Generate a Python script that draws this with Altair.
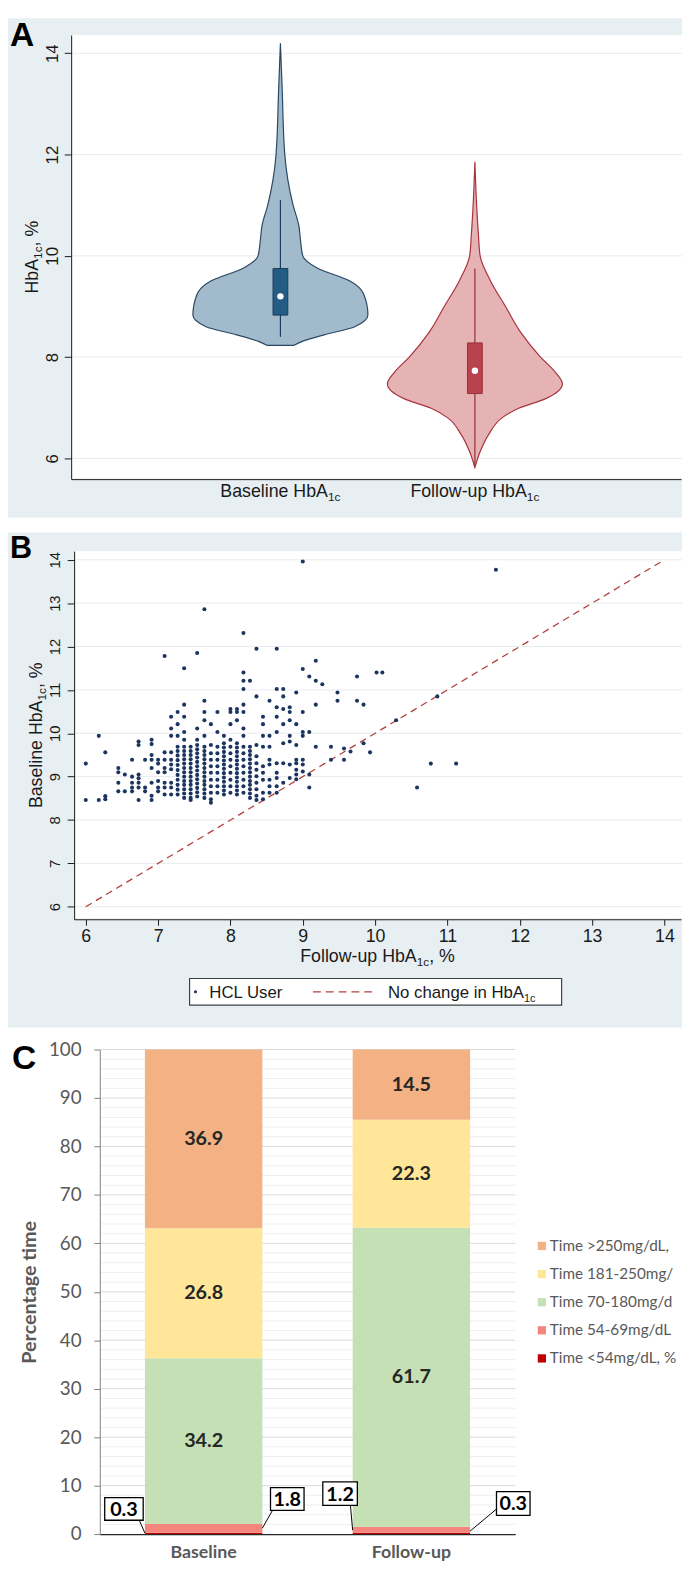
import altair as alt
import pandas as pd

# ============================ DATA ============================
# --- Panel A: violin outlines (HbA1c %, relative density) ---
baseline_violin_hba1c = [14.20, 13.30, 12.00, 11.50, 11.00, 10.60, 10.30, 10.00, 9.76, 9.50, 9.25, 8.83, 8.60, 8.44, 8.31, 8.23]
baseline_violin_density = [0.00, 0.02, 0.05, 0.085, 0.145, 0.21, 0.23, 0.255, 0.42, 0.80, 0.95, 1.00, 0.85, 0.50, 0.25, 0.15]
followup_violin_hba1c = [11.86, 11.00, 10.43, 10.00, 9.50, 9.00, 8.50, 8.00, 7.70, 7.47, 7.18, 6.99, 6.80, 6.48, 6.15, 5.82]
followup_violin_density = [0.00, 0.02, 0.04, 0.06, 0.18, 0.35, 0.52, 0.75, 0.92, 1.00, 0.81, 0.50, 0.31, 0.16, 0.064, 0.00]
violin_positions = [1, 2]
violin_label_main = ["Baseline HbA", "Follow-up HbA"]
box_q1 = [8.83, 7.28]
box_median = [9.20, 7.73]
box_q3 = [9.75, 8.28]
whisker_low = [8.40, 5.85]
whisker_high = [11.10, 9.75]
a_tick_values = [6, 8, 10, 12, 14]

# --- Panel B: (follow-up HbA1c, [baseline HbA1c values]) read column by column ---
scatter_columns = [
    (6.00, [9.30, 8.46]),
    (6.18, [9.94, 8.46]),
    (6.27, [9.56, 8.55, 8.48]),
    (6.45, [9.20, 9.10, 8.86, 8.66]),
    (6.54, [9.05, 8.66]),
    (6.64, [9.39, 9.00, 8.86, 8.75, 8.66]),
    (6.73, [9.81, 9.73, 9.05, 8.96, 8.86, 8.75, 8.46]),
    (6.82, [9.39, 8.75, 8.66]),
    (6.91, [9.85, 9.75, 9.50, 9.39, 9.20, 8.86, 8.56, 8.46]),
    (7.00, [9.39, 9.30, 9.10, 8.90, 8.75, 8.66]),
    (7.09, [11.78, 9.56, 9.39, 9.20, 9.10, 8.86, 8.75, 8.59]),
    (7.18, [10.38, 10.11, 9.94, 9.56, 9.39, 9.28, 9.17, 8.86, 8.75, 8.59]),
    (7.27, [10.49, 10.21, 9.94, 9.69, 9.59, 9.49, 9.38, 9.27, 9.15, 9.04, 8.93, 8.81, 8.70, 8.59]),
    (7.36, [11.50, 10.66, 10.38, 10.03, 9.85, 9.69, 9.59, 9.50, 9.40, 9.30, 9.20, 9.10, 9.00, 8.90, 8.81, 8.71, 8.61, 8.51]),
    (7.45, [9.69, 9.59, 9.50, 9.40, 9.30, 9.20, 9.10, 9.00, 8.90, 8.81, 8.71, 8.61, 8.51, 8.46]),
    (7.54, [11.85, 10.11, 9.85, 9.73, 9.63, 9.54, 9.44, 9.34, 9.24, 9.14, 9.04, 8.94, 8.84, 8.74, 8.64, 8.54]),
    (7.64, [12.86, 10.75, 10.49, 10.30, 9.94, 9.69, 9.59, 9.50, 9.40, 9.30, 9.20, 9.10, 9.00, 8.90, 8.81, 8.71, 8.61, 8.51]),
    (7.73, [10.21, 9.73, 9.54, 9.39, 9.24, 9.09, 8.93, 8.78, 8.63, 8.48, 8.40]),
    (7.82, [10.49, 10.03, 9.69, 9.54, 9.39, 9.24, 9.09, 8.93, 8.78, 8.63]),
    (7.91, [9.94, 9.77, 9.67, 9.57, 9.47, 9.37, 9.28, 9.18, 9.08, 8.98, 8.88, 8.78, 8.68, 8.59]),
    (8.00, [10.56, 10.49, 10.21, 9.85, 9.69, 9.54, 9.39, 9.24, 9.09, 8.93, 8.78, 8.63]),
    (8.09, [10.56, 10.49, 10.30, 9.77, 9.67, 9.57, 9.47, 9.37, 9.28, 9.18, 9.08, 8.98, 8.88, 8.78, 8.68, 8.59]),
    (8.18, [12.31, 11.40, 11.21, 11.02, 10.66, 10.49, 10.11, 9.94, 9.69, 9.54, 9.39, 9.24, 9.09, 8.93, 8.78, 8.63]),
    (8.27, [11.21, 9.69, 9.59, 9.50, 9.40, 9.30, 9.20, 9.10, 9.00, 8.90, 8.81, 8.71, 8.61, 8.51]),
    (8.36, [11.95, 10.85, 9.73, 9.47, 9.31, 9.16, 9.01, 8.86, 8.71, 8.56, 8.46]),
    (8.45, [10.38, 10.21, 9.94, 9.69, 9.24, 9.09, 8.93, 8.63, 8.48]),
    (8.54, [10.75, 9.94, 9.69, 9.39, 9.28, 8.93, 8.78, 8.63]),
    (8.64, [11.95, 11.02, 10.60, 10.38, 10.03, 9.31, 9.09, 8.97, 8.78, 8.63]),
    (8.73, [11.02, 10.85, 10.56, 10.21, 9.77, 9.31, 8.86]),
    (8.82, [10.60, 10.49, 10.30, 9.94, 9.81, 9.28, 8.97]),
    (8.91, [10.94, 10.21, 9.73, 9.39, 9.31, 9.16, 9.05, 8.94]),
    (9.00, [13.96, 11.48, 10.49, 10.03, 9.94, 9.39, 9.28, 9.12]),
    (9.09, [11.31, 10.03, 9.05, 8.75]),
    (9.18, [11.67, 11.21, 10.66, 9.69]),
    (9.27, [11.13]),
    (9.39, [9.69, 9.39]),
    (9.48, [10.94, 10.75]),
    (9.57, [9.65, 9.39]),
    (9.66, [9.58]),
    (9.75, [11.31, 10.75]),
    (9.84, [10.66, 9.77]),
    (9.93, [9.56]),
    (10.02, [11.40]),
    (10.10, [11.40]),
    (10.29, [10.30]),
    (10.58, [8.75]),
    (10.77, [9.30]),
    (10.86, [10.85]),
    (11.12, [9.30]),
    (11.67, [13.77]),
]
b_tick_values = [6, 7, 8, 9, 10, 11, 12, 13, 14]
identity_line = [6, 14]

# --- Panel C ---
periods = ["Baseline", "Follow-up"]
glucose_ranges = ["Time <54mg/dL, %", "Time 54-69mg/dL %", "Time 70-180mg/dL, %",
                  "Time 181-250mg/dL, %", "Time >250mg/dL, %"]
baseline_time_pct = [0.3, 1.8, 34.2, 26.8, 36.9]
followup_time_pct = [0.3, 1.2, 61.7, 22.3, 14.5]
c_tick_values = list(range(0, 101, 10))
c_minor_values = [v for v in range(2, 100, 2) if v % 10]

# ============================ STYLE ============================
FONT = "Liberation Sans"
CFONT = "Lato"
INK = "#1a1a1a"
PANEL_BG = "#e7eff3"
GRID = "#e8ebed"
C_COLORS = ["#c00000", "#f4867e", "#c5e0b4", "#ffe699", "#f4b183"]
C_TEXT = "#595959"

ARIAL_W = {' ': 278, '%': 889, ',': 278, '-': 333, '1': 556, 'A': 667, 'B': 667, 'C': 722,
           'F': 611, 'H': 722, 'L': 556, 'N': 722, 'U': 722, 'a': 556, 'b': 556, 'c': 500,
           'e': 556, 'g': 556, 'h': 556, 'i': 222, 'l': 222, 'n': 556, 'o': 556, 'p': 556,
           'r': 333, 's': 500, 'u': 556, 'w': 722}


def tw(s, size):
    return sum(ARIAL_W.get(c, 556) for c in s) / 1000.0 * size


def dummy():
    return pd.DataFrame({"d": [0]})


def px_rect(x1, x2, y1, y2, **kw):
    return alt.Chart(dummy()).mark_rect(**kw).encode(
        x=alt.value(x1), x2=alt.value(x2), y=alt.value(y1), y2=alt.value(y2))


def px_text(txt, x, y, **kw):
    return alt.Chart(dummy()).mark_text(text=txt, **kw).encode(x=alt.value(x), y=alt.value(y))


def px_rule(x1, y1, x2, y2, **kw):
    return alt.Chart(dummy()).mark_rule(**kw).encode(
        x=alt.value(x1), y=alt.value(y1), x2=alt.value(x2), y2=alt.value(y2))


def sub_pieces(pieces):
    total = sum(tw(t, s) for t, s, _ in pieces)
    off = -total / 2.0
    out = []
    for t, s, dy in pieces:
        out.append((t, s, dy, off))
        off += tw(t, s)
    return out


def rotated_title(pieces, x, yc):
    return [px_text(t, x, yc, angle=270, align="left", baseline="alphabetic", dx=off, dy=dy,
                    font=FONT, fontSize=s, color=INK) for t, s, dy, off in sub_pieces(pieces)]


def flat_title(pieces, x, yb):
    return [px_text(t, x, yb, align="left", baseline="alphabetic", dx=off, dy=dy,
                    font=FONT, fontSize=s, color=INK) for t, s, dy, off in sub_pieces(pieces)]


# ============================ PANEL A ============================
AW, AH = 683, 506
A_L, A_R, A_T, A_B = 64, 682, 17, 467
VHALF = 0.45
BHALF = 0.038
xsA = alt.Scale(domain=[-0.076, 3.06], range=[A_L, A_R], nice=False, zero=False)
ysA = alt.Scale(domain=[5.59, 14.36], range=[A_B, A_T], nice=False, zero=False)

yaxisA = alt.Axis(values=a_tick_values, grid=False, labelAngle=270, labelAlign="center",
                  labelBaseline="alphabetic", labelPadding=7, tickSize=7, tickColor=INK,
                  domainColor=INK, labelFont=FONT, labelFontSize=17, labelColor=INK,
                  title=None, zindex=1, labelFlush=False, labelOverlap=False, offset=-A_L)
xaxisA = alt.Axis(labels=False, ticks=False, grid=False, title=None, domainColor=INK,
                  zindex=1, offset=A_B - AH)


def XA(f):
    return alt.X(f, scale=xsA, axis=xaxisA)


def YA(f):
    return alt.Y(f, scale=ysA, axis=yaxisA)


a_layers = [
    px_rect(A_L + 1, AW, A_T, A_B - 1, color="white"),
    alt.Chart(pd.DataFrame({"t": a_tick_values})).mark_rule(color=GRID, strokeWidth=1).encode(
        y=YA("t:Q"), x=alt.value(A_L + 1), x2=alt.value(AW)),
]

violin_specs = [
    ("#a2bbcc", "#2a4763", "#245c85", "#1b3b5a"),
    ("#e6b3b5", "#a8323d", "#b8434e", "#982d38"),
]
violin_data = [(baseline_violin_hba1c, baseline_violin_density),
               (followup_violin_hba1c, followup_violin_density)]
for i, (fill, stroke, boxfill, dark) in enumerate(violin_specs):
    pos = violin_positions[i]
    vals, dens = violin_data[i]
    dfv = pd.DataFrame({"v": vals,
                        "lo": [pos - d * VHALF for d in dens],
                        "hi": [pos + d * VHALF for d in dens]})
    a_layers.append(
        alt.Chart(dfv).mark_area(orient="horizontal", interpolate="monotone", fill=fill,
                                 stroke=stroke, strokeWidth=1.2, fillOpacity=1).encode(
            y=YA("v:Q"), x=XA("lo:Q"), x2="hi:Q"))
    dfb = pd.DataFrame({"p": [pos], "q1": [box_q1[i]], "q3": [box_q3[i]], "med": [box_median[i]],
                        "lo": [whisker_low[i]], "hi": [whisker_high[i]]})
    a_layers.append(alt.Chart(dfb).mark_rule(color=dark, strokeWidth=1.2).encode(
        x=XA("p:Q"), y=YA("lo:Q"), y2="hi:Q"))
    a_layers.append(alt.Chart(dfb).transform_calculate(
        xl=f"datum.p - {BHALF}", xr=f"datum.p + {BHALF}").mark_rect(
        fill=boxfill, stroke=dark, strokeWidth=1).encode(
        x=XA("xl:Q"), x2="xr:Q", y=YA("q1:Q"), y2="q3:Q"))
    a_layers.append(alt.Chart(dfb).mark_circle(size=42, color="white", opacity=1).encode(
        x=XA("p:Q"), y=YA("med:Q")))
    for t, s, dy, off in sub_pieces([(violin_label_main[i], 18, 0), ("1c", 12, 4)]):
        a_layers.append(alt.Chart(pd.DataFrame({"p": [pos]})).mark_text(
            text=t, align="left", baseline="alphabetic", dx=off, dy=dy, font=FONT,
            fontSize=s, color=INK).encode(x=XA("p:Q"), y=alt.value(485)))

a_layers += rotated_title([("HbA", 18, 0), ("1c", 12, 4), (", %", 18, 0)], 30, (A_T + A_B) / 2)
a_layers.append(px_text("A", 2, 28, font=FONT, fontSize=34, fontWeight="bold",
                        color="black", align="left", baseline="alphabetic"))
chartA = alt.layer(*a_layers).properties(
    width=AW, height=AH, view=alt.ViewBackground(fill=PANEL_BG, stroke=None))

# ============================ PANEL B ============================
GAP = 15                      # white strip between panels A and B
BW, BH = 683, 517
B_L, B_R, B_T, B_B = 67, 682, GAP + 19, GAP + 392
xsB = alt.Scale(domain=[5.839, 14.229], range=[B_L, B_R], nice=False, zero=False)
ysB = alt.Scale(domain=[5.711, 14.198], range=[B_B, B_T], nice=False, zero=False)
yaxisB = alt.Axis(values=b_tick_values, grid=False, labelAngle=270, labelAlign="center",
                  labelBaseline="alphabetic", labelPadding=8, tickSize=7, tickColor=INK,
                  domainColor=INK, labelFont=FONT, labelFontSize=15, labelColor=INK,
                  title=None, zindex=1, labelFlush=False, labelOverlap=False, offset=-B_L)
xaxisB = alt.Axis(values=b_tick_values, grid=False, labelAngle=0, labelPadding=3, tickSize=6,
                  tickColor=INK, domainColor=INK, labelFont=FONT, labelFontSize=18,
                  labelColor=INK, title=None, zindex=1, labelFlush=False, labelOverlap=False,
                  offset=B_B - BH)


def XB(f):
    return alt.X(f, scale=xsB, axis=xaxisB)


def YB(f):
    return alt.Y(f, scale=ysB, axis=yaxisB)


pts_x, pts_y = [], []
for fx, ys in scatter_columns:
    for by in ys:
        pts_x.append(fx)
        pts_y.append(by)
dfS = pd.DataFrame({"followup": pts_x, "baseline": pts_y})

b_layers = [
    px_rect(0, BW, GAP, BH, color=PANEL_BG),
    px_rect(B_L + 1, BW, B_T, B_B - 1, color="white"),
    alt.Chart(pd.DataFrame({"t": b_tick_values})).mark_rule(color=GRID, strokeWidth=1).encode(
        y=YB("t:Q"), x=alt.value(B_L + 1), x2=alt.value(BW)),
    alt.Chart(pd.DataFrame({"v": identity_line})).mark_line(
        color="#b3403f", strokeWidth=1.3, strokeDash=[7, 5]).encode(x=XB("v:Q"), y=YB("v:Q")),
    alt.Chart(dfS).mark_circle(size=17, color="#1b3560", opacity=1).encode(
        x=XB("followup:Q"), y=YB("baseline:Q")),
    # legend box
    px_rect(184, 561, GAP + 452, GAP + 479, fill="white", stroke="#404040", strokeWidth=1.2),
    alt.Chart(dummy()).mark_circle(size=10, color="#1b3560", opacity=1).encode(
        x=alt.value(190), y=alt.value(GAP + 465.5)),
    px_text("HCL User", 204, GAP + 472, font=FONT, fontSize=17, color=INK, align="left",
            baseline="alphabetic"),
    px_rule(309, GAP + 465.5, 372, GAP + 465.5, color="#b3403f", strokeWidth=1.3, strokeDash=[8, 5]),
    px_text("No change in HbA", 385, GAP + 472, font=FONT, fontSize=17, color=INK, align="left",
            baseline="alphabetic"),
    px_text("1c", 385 + tw("No change in HbA", 17), GAP + 476, font=FONT, fontSize=11, color=INK,
            align="left", baseline="alphabetic"),
]
b_layers += rotated_title([("Baseline HbA", 18, 0), ("1c", 12, 4), (", %", 18, 0)], 34,
                          (B_T + B_B) / 2)
b_layers += flat_title([("Follow-up HbA", 18, 0), ("1c", 12, 4), (", %", 18, 0)],
                       (B_L + B_R) / 2, GAP + 435)
b_layers.append(px_text("B", 2, GAP + 26, font=FONT, fontSize=31, fontWeight="bold",
                        color="black", align="left", baseline="alphabetic"))
chartB = alt.layer(*b_layers).properties(
    width=BW, height=BH, view=alt.ViewBackground(fill="white", stroke=None))

# ============================ PANEL C ============================
CW, CH = 683, 541
C_L, C_R, C_T, C_B = 93, 514, 22, 513
c_rows = []
for period, vals in zip(periods, [baseline_time_pct, followup_time_pct]):
    for k, (rng, v) in enumerate(zip(glucose_ranges, vals)):
        c_rows.append({"period": period, "range": rng, "pct": v, "order": k})
dfC = pd.DataFrame(c_rows)

xsC = alt.Scale(domain=periods, range=[C_L, C_R], paddingInner=0, paddingOuter=0)
ysC = alt.Scale(domain=[0, 100], range=[C_B, C_T], nice=False, zero=True)
yaxisC = alt.Axis(values=c_tick_values, grid=False, tickSize=6, tickColor="#7f7f7f",
                  domainColor="#7f7f7f", labelFont=CFONT, labelFontSize=19, labelColor=C_TEXT,
                  labelPadding=13, title="Percentage time", titleFont=CFONT, titleFontSize=20,
                  titleFontWeight="bold", titleColor=C_TEXT, titlePadding=9, zindex=1,
                  offset=-C_L)
xaxisC = alt.Axis(title=None, labelFont=CFONT, labelFontSize=18, labelFontWeight="bold",
                  labelColor=C_TEXT, ticks=False, domainColor="#262626", domainWidth=1.3,
                  labelPadding=10, labelAngle=0, zindex=1, offset=C_B - CH)


def XC(f):
    return alt.X(f, scale=xsC, axis=xaxisC, sort=periods)


def YC(f, **kw):
    return alt.Y(f, scale=ysC, axis=yaxisC, **kw)


BAR = 119
band = (C_R - C_L) / 2.0
centers = [C_L + band / 2.0, C_L + band * 1.5]

c_layers = [
    alt.Chart(pd.DataFrame({"t": c_minor_values})).mark_rule(color="#eeeeee", strokeWidth=1).encode(
        y=YC("t:Q"), x=alt.value(C_L + 1), x2=alt.value(C_R)),
    alt.Chart(pd.DataFrame({"t": c_tick_values[1:]})).mark_rule(color="#d9d9d9", strokeWidth=1).encode(
        y=YC("t:Q"), x=alt.value(C_L + 1), x2=alt.value(C_R)),
    alt.Chart(dfC).mark_bar(size=BAR).encode(
        x=XC("period:N"),
        y=YC("pct:Q", stack="zero"),
        color=alt.Color("range:N", scale=alt.Scale(domain=glucose_ranges, range=C_COLORS), legend=None),
        order=alt.Order("order:Q", sort="ascending")),
    alt.Chart(dfC).transform_stack(
        stack="pct", groupby=["period"], sort=[alt.SortField("order", order="ascending")],
        as_=["y0", "y1"]).transform_calculate(mid="(datum.y0 + datum.y1) / 2").transform_filter(
        "datum.pct > 5").mark_text(font=CFONT, fontSize=20, fontWeight="bold", color="#262626",
                                   baseline="middle").encode(
        x=XC("period:N"), y=YC("mid:Q"), text=alt.Text("pct:Q", format=".1f")),
]

# callouts for the thin hypoglycaemia segments (box x1,x2,y1,y2 ; pointer start -> bar corner)
callouts = [
    (baseline_time_pct[0], (98, 137, C_B - 37, C_B - 14), (133, C_B - 14, centers[0] - BAR / 2, C_B - 1)),
    (baseline_time_pct[1], (266, 300, C_B - 47, C_B - 24), (268, C_B - 24, centers[0] + BAR / 2, C_B - 6)),
    (followup_time_pct[1], (319, 354, C_B - 53, C_B - 29), (347, C_B - 29, centers[1] - BAR / 2, C_B - 4)),
    (followup_time_pct[0], (495, 529, C_B - 43, C_B - 19), (497, C_B - 27, centers[1] + BAR / 2, C_B - 3)),
]
for val, (bx1, bx2, by1, by2), (lx1, ly1, lx2, ly2) in callouts:
    c_layers.append(px_rule(lx1, ly1, lx2, ly2, color="black", strokeWidth=1))
    c_layers.append(px_rect(bx1, bx2, by1, by2, fill="white", stroke="black", strokeWidth=1.3))
    c_layers.append(px_text(f"{val:.1f}", (bx1 + bx2) / 2, (by1 + by2) / 2 + 1, font=CFONT,
                            fontSize=20, fontWeight="bold", color="black", align="center",
                            baseline="middle"))

# legend (top to bottom: >250 ... <54), cut at the right page edge like the original
for row, idx in enumerate([4, 3, 2, 1, 0]):
    yy = C_T + 199 + row * 28.5
    c_layers.append(alt.Chart(dummy()).mark_square(size=70, color=C_COLORS[idx], opacity=1).encode(
        x=alt.value(541), y=alt.value(yy)))
    c_layers.append(px_text(glucose_ranges[idx], 549, yy, font=CFONT, fontSize=15.5, color=C_TEXT,
                            align="left", baseline="middle", limit=134, ellipsis=" "))

c_layers.append(px_text("C", 4, C_T + 20, font=FONT, fontSize=34, fontWeight="bold",
                        color="black", align="left", baseline="alphabetic"))
chartC = alt.layer(*c_layers).properties(
    width=CW, height=CH, view=alt.ViewBackground(fill="white", stroke=None))

chart = alt.vconcat(chartA, chartB, chartC, spacing=0).properties(
    padding=0, background="white").configure_view(stroke=None)

chart.save("out.html", embed_options={"renderer": "svg", "actions": False})
